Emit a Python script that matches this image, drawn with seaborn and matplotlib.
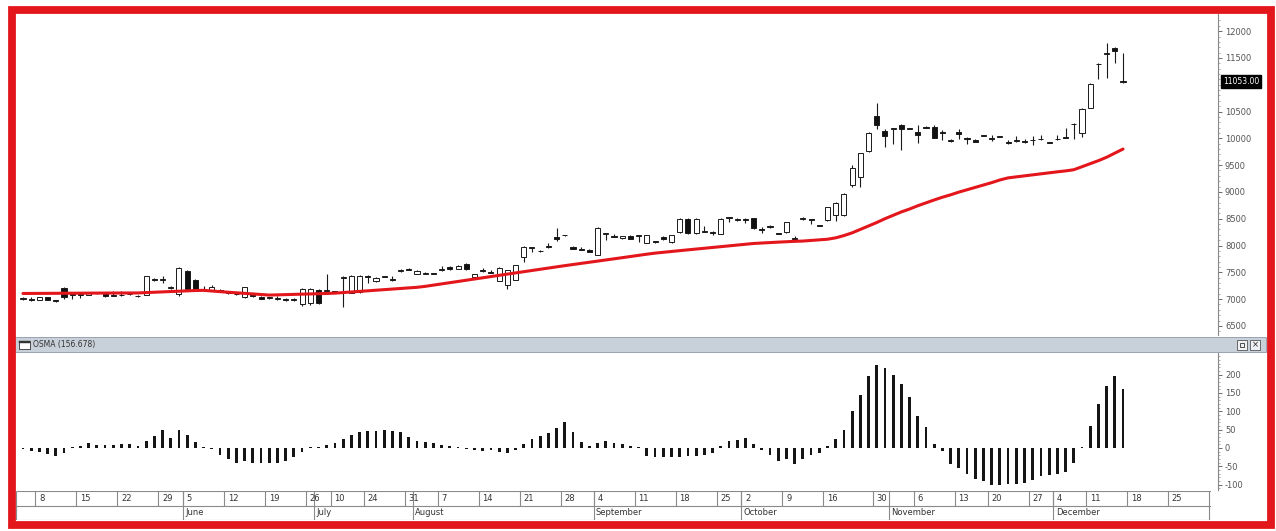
import matplotlib
matplotlib.use("Agg")
import matplotlib.pyplot as plt
import matplotlib.transforms as mtransforms
from matplotlib.patches import Rectangle
import seaborn as sns
import numpy as np
import pandas as pd

# ---------------- data ----------------
opens = [7010, 7000, 6990, 7030, 6970, 7200, 7080, 7090, 7080, 7110,
         7100, 7060, 7070, 7090, 7060, 7080, 7380, 7360, 7200, 7100,
         7520, 7350, 7180, 7160, 7170, 7130, 7100, 7030, 7070, 7040,
         7020, 7000, 7010, 6980, 6900, 6920, 7170, 7150, 7150, 7400,
         7120, 7130, 7430, 7330, 7420, 7370, 7520, 7570, 7470, 7470,
         7480, 7540, 7600, 7570, 7660, 7410, 7530, 7500, 7340, 7260,
         7360, 7780, 7960, 7900, 7980, 8150, 8190, 7980, 7930, 7920,
         7830, 8220, 8170, 8140, 8180, 8180, 8050, 8080, 8150, 8060,
         8250, 8500, 8240, 8260, 8240, 8220, 8520, 8470, 8490, 8510,
         8300, 8370, 8230, 8250, 8140, 8490, 8490, 8380, 8470, 8560,
         8560, 9120, 9270, 9770, 10420, 10140, 10180, 10250, 10180, 10110,
         10220, 10220, 10110, 9960, 10120, 10010, 9970, 10050, 10010, 10030,
         9930, 9950, 9940, 9970, 9990, 9930, 9980, 10030, 10260, 10100,
         10570, 11380, 11580, 11690, 11070]
highs = [7040, 7030, 7040, 7040, 6990, 7230, 7130, 7120, 7120, 7140,
         7120, 7150, 7150, 7100, 7080, 7440, 7400, 7440, 7240, 7590,
         7540, 7380, 7250, 7260, 7180, 7150, 7120, 7230, 7090, 7050,
         7030, 7060, 7020, 7020, 7200, 7200, 7190, 7470, 7160, 7430,
         7450, 7450, 7450, 7420, 7430, 7440, 7560, 7580, 7540, 7500,
         7490, 7620, 7610, 7630, 7670, 7470, 7580, 7550, 7590, 7550,
         7640, 7990, 7980, 7910, 8040, 8330, 8200, 7990, 7980, 7930,
         8340, 8240, 8210, 8180, 8190, 8200, 8200, 8090, 8170, 8200,
         8510, 8520, 8520, 8360, 8280, 8510, 8540, 8510, 8510, 8520,
         8340, 8380, 8240, 8440, 8180, 8530, 8500, 8390, 8720, 8810,
         8980, 9500, 9730, 10110, 10660, 10180, 10200, 10260, 10200, 10250,
         10230, 10240, 10150, 9990, 10170, 10030, 9980, 10060, 10060, 10040,
         9960, 10050, 9980, 10040, 10060, 9940, 10060, 10200, 10290, 10560,
         11030, 11400, 11780, 11700, 11590]
lows = [6990, 6960, 6980, 6980, 6940, 7000, 7000, 7020, 7070, 7090,
        7040, 7050, 7060, 7080, 7040, 7070, 7330, 7300, 7180, 7060,
        7150, 7160, 7150, 7150, 7140, 7100, 7070, 7020, 7040, 7000,
        7000, 6990, 6970, 6970, 6880, 6890, 6900, 7130, 7120, 6850,
        7110, 7120, 7300, 7320, 7410, 7340, 7510, 7540, 7460, 7460,
        7460, 7530, 7550, 7560, 7550, 7400, 7500, 7480, 7330, 7180,
        7350, 7700, 7880, 7880, 7960, 8080, 8180, 7930, 7910, 7870,
        7820, 8100, 8150, 8130, 8120, 8060, 8040, 8050, 8100, 8050,
        8240, 8220, 8220, 8250, 8190, 8210, 8440, 8460, 8420, 8300,
        8240, 8330, 8210, 8240, 8080, 8480, 8410, 8360, 8460, 8450,
        8550, 9100, 9090, 9750, 10180, 9830, 9900, 9780, 10170, 9920,
        10190, 10000, 9960, 9940, 9990, 9900, 9930, 10040, 9950, 10020,
        9900, 9940, 9910, 9880, 9970, 9910, 9970, 10000, 9990, 10030,
        10560, 11110, 11130, 11400, 11030]
closes = [7020, 6990, 7030, 6990, 6960, 7030, 7090, 7080, 7110, 7130,
          7050, 7070, 7080, 7090, 7050, 7430, 7350, 7370, 7220, 7580,
          7180, 7180, 7190, 7230, 7160, 7120, 7090, 7220, 7050, 7010,
          7020, 7010, 6980, 7010, 7190, 7180, 6930, 7170, 7140, 7410,
          7440, 7430, 7410, 7400, 7420, 7350, 7540, 7550, 7530, 7490,
          7470, 7550, 7560, 7620, 7560, 7460, 7520, 7490, 7580, 7540,
          7630, 7980, 7970, 7890, 7970, 8130, 8190, 7940, 7920, 7880,
          8330, 8230, 8160, 8170, 8130, 8190, 8190, 8060, 8130, 8190,
          8500, 8230, 8500, 8270, 8230, 8500, 8530, 8500, 8470, 8320,
          8290, 8340, 8220, 8430, 8130, 8520, 8470, 8370, 8710, 8800,
          8970, 9440, 9720, 10100, 10240, 10050, 10190, 10170, 10180, 10070,
          10200, 10010, 10100, 9950, 10090, 9990, 9940, 10050, 9990, 10030,
          9920, 9960, 9930, 9960, 9980, 9920, 9990, 10010, 10270, 10550,
          11020, 11390, 11600, 11630, 11053]
moving_avg = [7105, 7106, 7106, 7107, 7108, 7109, 7109, 7110, 7111, 7112,
              7112, 7113, 7114, 7114, 7115, 7121, 7128, 7135, 7141, 7148,
              7154, 7160, 7163, 7150, 7139, 7128, 7117, 7107, 7096, 7085,
              7075, 7079, 7083, 7087, 7091, 7096, 7100, 7105, 7111, 7122,
              7134, 7144, 7155, 7165, 7176, 7188, 7199, 7209, 7220, 7238,
              7261, 7284, 7306, 7329, 7352, 7375, 7397, 7420, 7443, 7466,
              7488, 7511, 7534, 7557, 7579, 7603, 7624, 7645, 7666, 7688,
              7709, 7730, 7752, 7773, 7795, 7816, 7838, 7858, 7874, 7889,
              7904, 7919, 7933, 7948, 7963, 7978, 7993, 8008, 8023, 8038,
              8047, 8055, 8063, 8071, 8078, 8083, 8095, 8106, 8117, 8143,
              8185, 8236, 8300, 8364, 8429, 8500, 8564, 8627, 8681, 8742,
              8796, 8850, 8901, 8946, 8996, 9041, 9085, 9129, 9173, 9223,
              9262, 9281, 9300, 9321, 9339, 9358, 9375, 9392, 9414, 9471,
              9527, 9583, 9647, 9723, 9800]
osma = [-3, -8, -12, -18, -22, -15, 2, 4, 12, 8,
        8, 8, 10, 10, 5, 20, 32, 48, 28, 50,
        35, 15, 3, -3, -20, -30, -42, -35, -40, -40,
        -42, -42, -35, -25, -10, 3, 3, 8, 12, 25,
        35, 42, 45, 45, 48, 45, 42, 30, 20, 15,
        12, 8, 5, 3, -2, -5, -8, -5, -10, -15,
        -5, 10, 25, 32, 40, 55, 70, 42, 15, 5,
        12, 20, 12, 10, 5, 2, -22, -26, -25, -25,
        -25, -22, -22, -20, -15, 5, 20, 22, 28, 10,
        -5, -20, -35, -30, -45, -30, -20, -15, 5, 25,
        50, 100, 145, 195, 225, 218, 200, 175, 140, 88,
        58, 10, -8, -45, -55, -70, -85, -90, -100, -100,
        -98, -98, -95, -88, -78, -75, -72, -65, -40, 2,
        60, 120, 170, 195, 160]
day_labels = ["8", "15", "22", "29", "5", "12", "19", "26", "10", "24", "31",
              "7", "14", "21", "28", "4", "11", "18", "25", "2", "9", "16",
              "30", "6", "13", "20", "27", "4", "11", "18", "25"]
day_pos = [1.5, 6.5, 11.5, 16.5, 19.5, 24.5, 29.5, 34.5, 37.5, 41.5, 46.5,
           50.5, 55.5, 60.5, 65.5, 69.5, 74.5, 79.5, 84.5, 87.5, 92.5, 97.5,
           103.5, 108.5, 113.5, 117.5, 122.5, 125.5, 129.5, 134.5, 139.5]
month_labels = ["June", "July", "August", "September", "October", "November", "December"]
month_pos = [19.5, 35.5, 47.5, 69.5, 87.5, 105.5, 125.5]
price_ticks = [6500, 7000, 7500, 8000, 8500, 9000, 9500, 10000, 10500, 11500, 12000]
osma_ticks = [-100, -50, 0, 50, 100, 150, 200]
last_price = "11053.00"
last_value = 11053
osma_title = "OSMA (156.678)"

# ---------------- figure ----------------
sns.set_theme(style="white")
plt.rcParams['font.family'] = ['DejaVu Sans']

W, H = 1276, 531
fig = plt.figure(figsize=(W / 100, H / 100), dpi=100)
fig.patch.set_facecolor("white")


def rect(x0, y0, x1, y1):
    return [x0 / W, 1 - y1 / H, (x1 - x0) / W, (y1 - y0) / H]


XL = (-0.85, 145.57)
idx = np.arange(len(closes))
df = pd.DataFrame({"i": idx, "open": opens, "high": highs, "low": lows,
                   "close": closes, "ma": moving_avg, "osma": osma})

# price panel
ax_p = fig.add_axes(rect(16, 14, 1218, 335))
ax_p.set_facecolor("white")
ax_p.vlines(df["i"], df["low"], df["high"], color="#1a1a1a", lw=0.8, zorder=2)
up = df["close"] >= df["open"]
body_bottom = np.minimum(df["open"], df["close"])
body_h = np.maximum(np.abs(df["close"] - df["open"]), 14)
ax_p.bar(df["i"], body_h, bottom=body_bottom, width=0.62,
         color=np.where(up, "white", "#111111"), edgecolor="#1a1a1a",
         linewidth=0.7, zorder=3)
sns.lineplot(data=df, x="i", y="ma", ax=ax_p, color="#e3161c", lw=2.2,
             legend=False, zorder=4)
ax_p.set_xlim(*XL)
ax_p.set_ylim(6330, 12320)
ax_p.set_xlabel("")
ax_p.set_ylabel("")
ax_p.set_xticks([])
ax_p.yaxis.tick_right()
ax_p.set_yticks(price_ticks)
ax_p.set_yticklabels([str(t) for t in price_ticks])
ax_p.set_yticks(np.arange(6400, 12300, 100), minor=True)
ax_p.tick_params(axis="y", which="major", labelsize=6, colors="#555555",
                 length=3, width=0.6, pad=2, right=True, left=False)
ax_p.tick_params(axis="y", which="minor", length=1.5, width=0.5,
                 colors="#888888", right=True, left=False)
for s in ["top", "left", "bottom"]:
    ax_p.spines[s].set_visible(False)
ax_p.spines["right"].set_color("#888888")
ax_p.spines["right"].set_linewidth(0.8)
trans = mtransforms.blended_transform_factory(ax_p.transAxes, ax_p.transData)
ax_p.text(1.004, last_value, last_price, transform=trans, fontsize=5.5,
          color="white", va="center", ha="left", zorder=6,
          bbox=dict(boxstyle="square,pad=0.25", fc="black", ec="black"))

# OSMA panel
ax_o = fig.add_axes(rect(16, 353, 1218, 490))
ax_o.bar(df["i"], df["osma"], width=0.34, color="#151515", linewidth=0, zorder=3)
ax_o.set_xlim(*XL)
ax_o.set_ylim(-115, 259)
ax_o.set_xticks([])
ax_o.yaxis.tick_right()
ax_o.set_yticks(osma_ticks)
ax_o.set_yticklabels([str(t) for t in osma_ticks])
ax_o.set_yticks(np.arange(-110, 260, 10), minor=True)
ax_o.tick_params(axis="y", which="major", labelsize=6, colors="#555555",
                 length=3, width=0.6, pad=2, right=True, left=False)
ax_o.tick_params(axis="y", which="minor", length=1.5, width=0.5,
                 colors="#888888", right=True, left=False)
for s in ["top", "left", "bottom"]:
    ax_o.spines[s].set_visible(False)
ax_o.spines["right"].set_color("#888888")
ax_o.spines["right"].set_linewidth(0.8)

# date axis
ax_d = fig.add_axes(rect(16, 491, 1211, 520))
ax_d.set_xlim(XL[0], 144.72)
ax_d.set_ylim(0, 2)
ax_d.axis("off")
ax_d.hlines([0.02, 1, 1.98], XL[0], 144.72, color="#8a8a8a", lw=0.8)
ax_d.vlines(day_pos, 1, 2, color="#8a8a8a", lw=0.8)
ax_d.vlines(month_pos + [144.5], 0, 2, color="#8a8a8a", lw=0.8)
ax_d.vlines([XL[0] + 0.05], 0, 2, color="#8a8a8a", lw=0.8)
for p, t in zip(day_pos, day_labels):
    ax_d.text(p + 0.45, 1.5, t, fontsize=6, color="#333333", va="center", ha="left")
for p, t in zip(month_pos, month_labels):
    ax_d.text(p + 0.3, 0.5, t, fontsize=6, color="#333333", va="center", ha="left")

# OSMA header bar
fig.add_artist(Rectangle((14 / W, 1 - 352 / H), (1266 - 14) / W, 15 / H,
                         transform=fig.transFigure, facecolor="#c8d0da",
                         edgecolor="#8d98a5", lw=0.6, zorder=5))
fig.add_artist(Rectangle((19 / W, 1 - 349 / H), 11 / W, 8 / H,
                         transform=fig.transFigure, facecolor="white",
                         edgecolor="#333333", lw=0.6, zorder=6))
fig.add_artist(Rectangle((19 / W, 1 - 343 / H), 11 / W, 2 / H,
                         transform=fig.transFigure, facecolor="#333333",
                         edgecolor="#333333", lw=0.3, zorder=6))
fig.text(33 / W, 1 - 345 / H, osma_title, fontsize=5.5, color="#333333",
         va="center", ha="left", zorder=7)
for bx in [1237, 1250]:
    fig.add_artist(Rectangle((bx / W, 1 - 350 / H), 10 / W, 10 / H,
                             transform=fig.transFigure, facecolor="#eef0f3",
                             edgecolor="#555555", lw=0.6, zorder=6))
fig.add_artist(Rectangle((1240 / W, 1 - 347 / H), 4 / W, 4 / H,
                         transform=fig.transFigure, facecolor="none",
                         edgecolor="#333333", lw=0.6, zorder=7))
fig.text(1255 / W, 1 - 345 / H, "×", fontsize=6, color="#222222",
         va="center", ha="center", zorder=7)

# red frame
fig.add_artist(Rectangle((11.5 / W, 1 - 525 / H), (1270.5 - 11.5) / W, (525 - 9.5) / H,
                         transform=fig.transFigure, fill=False,
                         edgecolor="#e3161c", lw=5.6, zorder=10))

fig.savefig("out.png", dpi=100, facecolor="white")
